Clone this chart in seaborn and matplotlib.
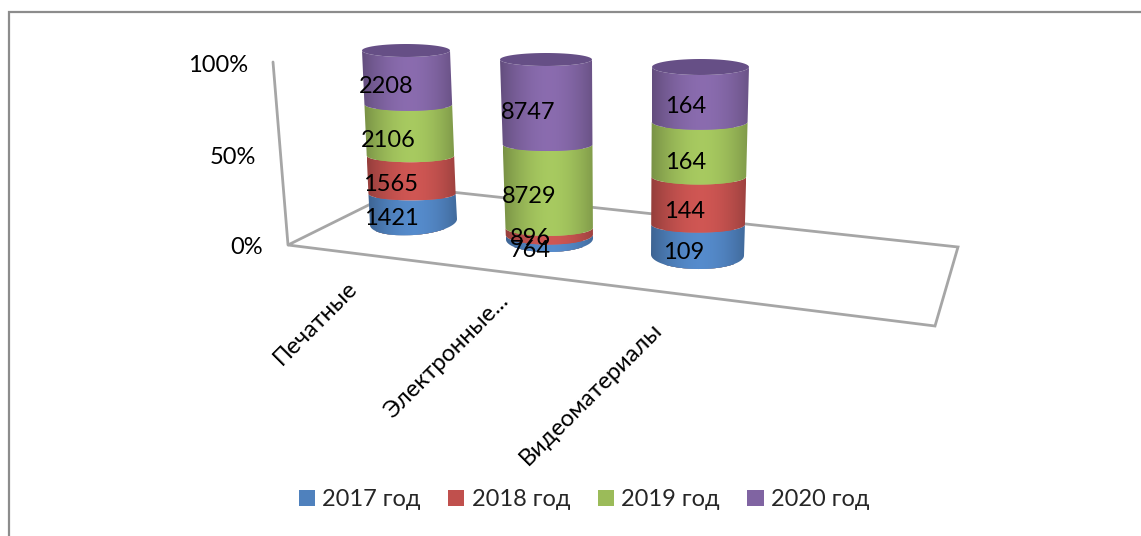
import numpy as np
import matplotlib
matplotlib.use("Agg")
import matplotlib.pyplot as plt
from matplotlib.patches import Polygon, Patch
from matplotlib.colors import to_rgb
import seaborn as sns

# ---- data ----
categories = ["Печатные", "Электронные...", "Видеоматериалы"]
series_names = ["2017 год", "2018 год", "2019 год", "2020 год"]
y2017 = [1421, 764, 109]
y2018 = [1565, 896, 144]
y2019 = [2106, 8729, 164]
y2020 = [2208, 8747, 164]
pct_ticks = ["100%", "50%", "0%"]

# ---- style / layout (pixels of the reference) ----
W, H = 1141, 536
colors = ["#4F81BD", "#C0504D", "#9BBB59", "#8064A2"]
top_face = "#664F86"
gray = "#A6A6A6"
FONT = ["Lato", "Open Sans", "DejaVu Sans"]
FS = 17
# per-cylinder projection: x centre and radius at 0 % and 100 %, y of the front edge at 0 % and 100 %,
# ellipse half-height of the base and of the upper rings, tilt of the base
cyl = [
    dict(x0=413.5, x1=406.0, r0=43.5, r1=44.0, y0=235, y1=57, b0=13, b1=6.5, tilt=-3.0, dx=-21),
    dict(x0=549.5, x1=546.0, r0=43.5, r1=46.0, y0=252, y1=66, b0=13, b1=6.5, tilt=-0.5, dx=-19),
    dict(x0=697.5, x1=700.5, r0=46.5, r1=48.5, y0=269, y1=75, b0=14, b1=8.0, tilt=0.5, dx=-14),
]
label_dy = [[1, 3, 4, 3], [2, -2, 3, 4], [2, 3, 5, 4]]

sns.set_theme(style="white")
plt.rcParams["font.family"] = FONT

fig = plt.figure(figsize=(W / 100, H / 100), dpi=100, facecolor="white")

# background axes in reference pixels: frame, floor, axis labels
bg = fig.add_axes([0, 0, 1, 1])
bg.set_xlim(0, W)
bg.set_ylim(H, 0)
bg.axis("off")
bg.plot([9, 9, W + 2], [H + 2, 12, 12], color="#8C8C8C", lw=1.6, solid_joinstyle="miter")
bg.add_patch(Polygon([(288, 245), (405, 187), (958, 247), (935, 326)], closed=True,
                     fill=False, edgecolor=gray, lw=2))
bg.plot([273, 288], [62, 245], color=gray, lw=2)
for s, x, y in zip(pct_ticks, [248, 256, 263], [65, 158, 248]):
    bg.text(x, y, s, ha="right", va="center", fontsize=FS, color="black")
for s, x, y in zip(categories, [316, 447, 591], [323, 356, 394]):
    bg.text(x, y, s, rotation=45, ha="center", va="center", fontsize=FS, color="black",
            rotation_mode="anchor")

values = np.array([y2017, y2018, y2019, y2020], dtype=float)
shares = values / values.sum(axis=0) * 100
cum = np.cumsum(shares, axis=0)

shade_x = np.linspace(-1, 1, 200)
shade = 0.80 + 0.28 * (1 - np.abs(shade_x - 0.05) ** 1.8)


def gradient(color):
    return np.clip(np.outer(shade, to_rgb(color)), 0, 1)[None, :, :]


PAD = 15  # percent of padding above and below
t_arc = np.linspace(np.pi, 2 * np.pi, 60)
for i, (cat, g) in enumerate(zip(categories, cyl)):
    ppp = (g["y0"] - g["y1"]) / 100.0
    top_px = g["y1"] - PAD * ppp
    bot_px = g["y0"] + PAD * ppp
    mid_x = 0.5 * (g["x0"] + g["x1"])
    half = 70
    ax = fig.add_axes([(mid_x - half) / W, 1 - bot_px / H, 2 * half / W, (bot_px - top_px) / H])
    ax.patch.set_alpha(0)

    # flat stacked core drawn by seaborn, tallest first
    for k in range(3, -1, -1):
        sns.barplot(x=[cat], y=[cum[k, i]], color=colors[k], width=70, saturation=1, ax=ax)
    core_bars = list(ax.patches)
    ax.set_xlim(-half, half)
    ax.set_ylim(-PAD, 100 + PAD)
    ax.axis("off")

    xc = lambda p: g["x0"] + (g["x1"] - g["x0"]) * p / 100 - mid_x
    rr = lambda p: g["r0"] + (g["r1"] - g["r0"]) * p / 100
    decay = lambda p: np.exp(-p / 6.0)
    bb = lambda p: (g["b1"] + (g["b0"] - g["b1"]) * decay(p)) / ppp
    tl = lambda p: g["tilt"] * decay(p) / ppp

    def arc(p):
        # p is the height of the front-most point of the ring
        return np.column_stack([xc(p) + rr(p) * np.cos(t_arc),
                                p + bb(p) * (1 + np.sin(t_arc)) - tl(p) * np.cos(t_arc)])

    outline = Polygon(np.vstack([arc(0.0), arc(100.0)[::-1]]), closed=True, facecolor="none",
                      edgecolor="none", transform=ax.transData)
    ax.add_patch(outline)
    for bar in core_bars:
        bar.set_clip_path(outline)

    lo = 0.0
    for k in range(4):
        hi = cum[k, i]
        poly = Polygon(np.vstack([arc(lo), arc(hi)[::-1]]), closed=True, facecolor="none",
                       edgecolor="none", transform=ax.transData)
        ax.add_patch(poly)
        left = min(xc(lo) - rr(lo), xc(hi) - rr(hi))
        right = max(xc(lo) + rr(lo), xc(hi) + rr(hi))
        im = ax.imshow(gradient(colors[k]), extent=[left, right, -PAD, 100 + PAD], aspect="auto",
                       interpolation="bilinear", zorder=3)
        im.set_clip_path(poly)
        lo = hi

    # top face
    tt = 2 * t_arc
    top = np.column_stack([xc(100) + rr(100) * np.cos(tt), 100 + bb(100) * (1 + np.sin(tt))])
    ax.add_patch(Polygon(top, closed=True, facecolor=top_face, edgecolor="none", zorder=4))
    ax.set_xlim(-half, half)
    ax.set_ylim(-PAD, 100 + PAD)

    # data labels
    lo = 0.0
    for k in range(4):
        hi = cum[k, i]
        m = 0.5 * (lo + hi)
        ax.annotate(f"{int(values[k, i])}", xy=(xc(m), m), xytext=(g["dx"], -label_dy[i][k]),
                    textcoords="offset pixels", ha="center", va="center",
                    fontsize=FS, color="black", zorder=6, annotation_clip=False)
        lo = hi

# legend
handles = [Patch(facecolor=c, edgecolor="none") for c in colors]
fig.legend(handles, series_names, ncol=4, loc="center", bbox_to_anchor=(584 / W, 1 - 500 / H),
           frameon=False, fontsize=FS, handlelength=0.68, handleheight=0.68, handletextpad=0.3,
           columnspacing=1.18, borderpad=0)

fig.savefig("out.png", dpi=100)
